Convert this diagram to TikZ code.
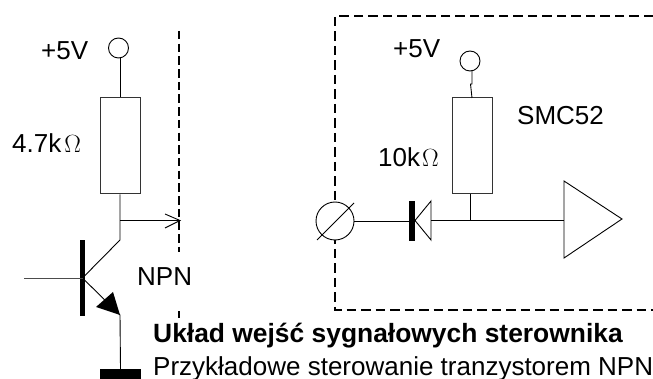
\documentclass[tikz,border=0pt]{standalone}
\usepackage{fontspec}
\setmainfont{Liberation Sans}
\tikzset{
    wire/.style={black, line width=0.9pt},
    fence/.style={black, line width=2pt, dash pattern=on 9.5pt off 5pt},
    thinfence/.style={black, line width=1.2pt, dash pattern=on 8.5pt off 4.2pt},
    terminal/.style={draw=black, line width=0.9pt, circle, fill=white, inner sep=0pt, minimum size=20pt},
    resistor/.style={draw=black!80, line width=1pt, fill=white, inner sep=0pt, minimum width=40pt, minimum height=96pt},
    blackbar/.style={fill=black, inner sep=0pt},
    label/.style={inner sep=0pt, anchor=base west, font=\fontsize{26}{30}\selectfont},
    caption/.style={inner sep=0pt, anchor=base west, font=\fontsize{26}{30}\selectfont}
}
\begin{document}
\begin{tikzpicture}[x=1pt, y=-1pt]
    \useasboundingbox (0, 0) rectangle (653, 379);
    % NPN side
    \draw[thinfence] (179, 31) -- (179, 252);
    \draw[thinfence] (179, 311) -- (179, 318);
    \node[terminal] (vccA) at (118.5, 48) {};
    \node[resistor] (resA) at (120, 146) {};
    \coordinate (tap) at (120, 220.5);
    \coordinate (out) at (180, 220.5);
    \coordinate (coll) at (120, 240);
    \coordinate (base) at (24, 278);
    \coordinate (emit) at (120, 315);
    \node[blackbar, minimum width=5pt, minimum height=76pt] (bar) at (82.5, 278) {};
    \node[blackbar, minimum width=41pt, minimum height=10pt] (gnd) at (120.5, 374) {};
    \draw[wire] (vccA.south -| resA) -- (resA.north);
    \draw[wire] (resA.south) -- (coll) -- (bar.center) -- (emit) -- (gnd.north);
    \draw[wire, black!70] (base) -- (bar.center);
    \draw[wire] (tap) -- (out);
    \draw[wire] (165, 214) -- (out) -- (165, 228);
    \fill[black] (emit) -- (96, 307) -- (113, 292) -- cycle;
    % controller side
    \draw[fence] (653, 16) -- (335, 16) -- (335, 310) -- (653, 310);
    \node[terminal, minimum size=38pt] (port) at (335, 221) {};
    \node[terminal] (vccB) at (470, 61) {};
    \node[resistor] (resB) at (472.5, 146) {};
    \node[blackbar, minimum width=6pt, minimum height=40pt] (cath) at (412, 221) {};
    \coordinate (dioA) at (431, 220.5);
    \coordinate (junc) at (470.5, 220.5);
    \coordinate (ampIn) at (564, 220.5);
    \draw[wire] (317, 240) -- (354, 203);
    \draw[wire] (port.east) -- (cath.center);
    \draw[wire] (415, 220.5) -- (431, 201) -- (431, 240) -- cycle;
    \draw[wire] (dioA) -- (ampIn);
    \draw[wire] (resB.south -| junc) -- (junc);
    \draw[wire] (472, 71) -- (472, 84) -- (470.5, 84) -- (472, 98);
    \draw[wire] (564, 181) -- (622, 219) -- (564, 258) -- cycle;
    % labels
    \node[label] (tA) at (41, 60) {+5V};
    \node[label] (tB) at (12, 153) {4.7k\kern3pt$\Omega$};
    \node[label] (tC) at (137, 286) {NPN};
    \node[label] (tD) at (393, 58) {+5V};
    \node[label] (tE) at (378, 167) {10k\kern2pt$\Omega$};
    \node[label] (tF) at (517, 125) {SMC52};
    \node[caption, font=\fontsize{26.4}{30}\selectfont] (tG) at (153, 342) {\bfseries Układ wejść sygnałowych sterownika};
    \node[caption] (tH) at (153, 375) {Przykładowe sterowanie tranzystorem NPN};
\end{tikzpicture}
\end{document}
